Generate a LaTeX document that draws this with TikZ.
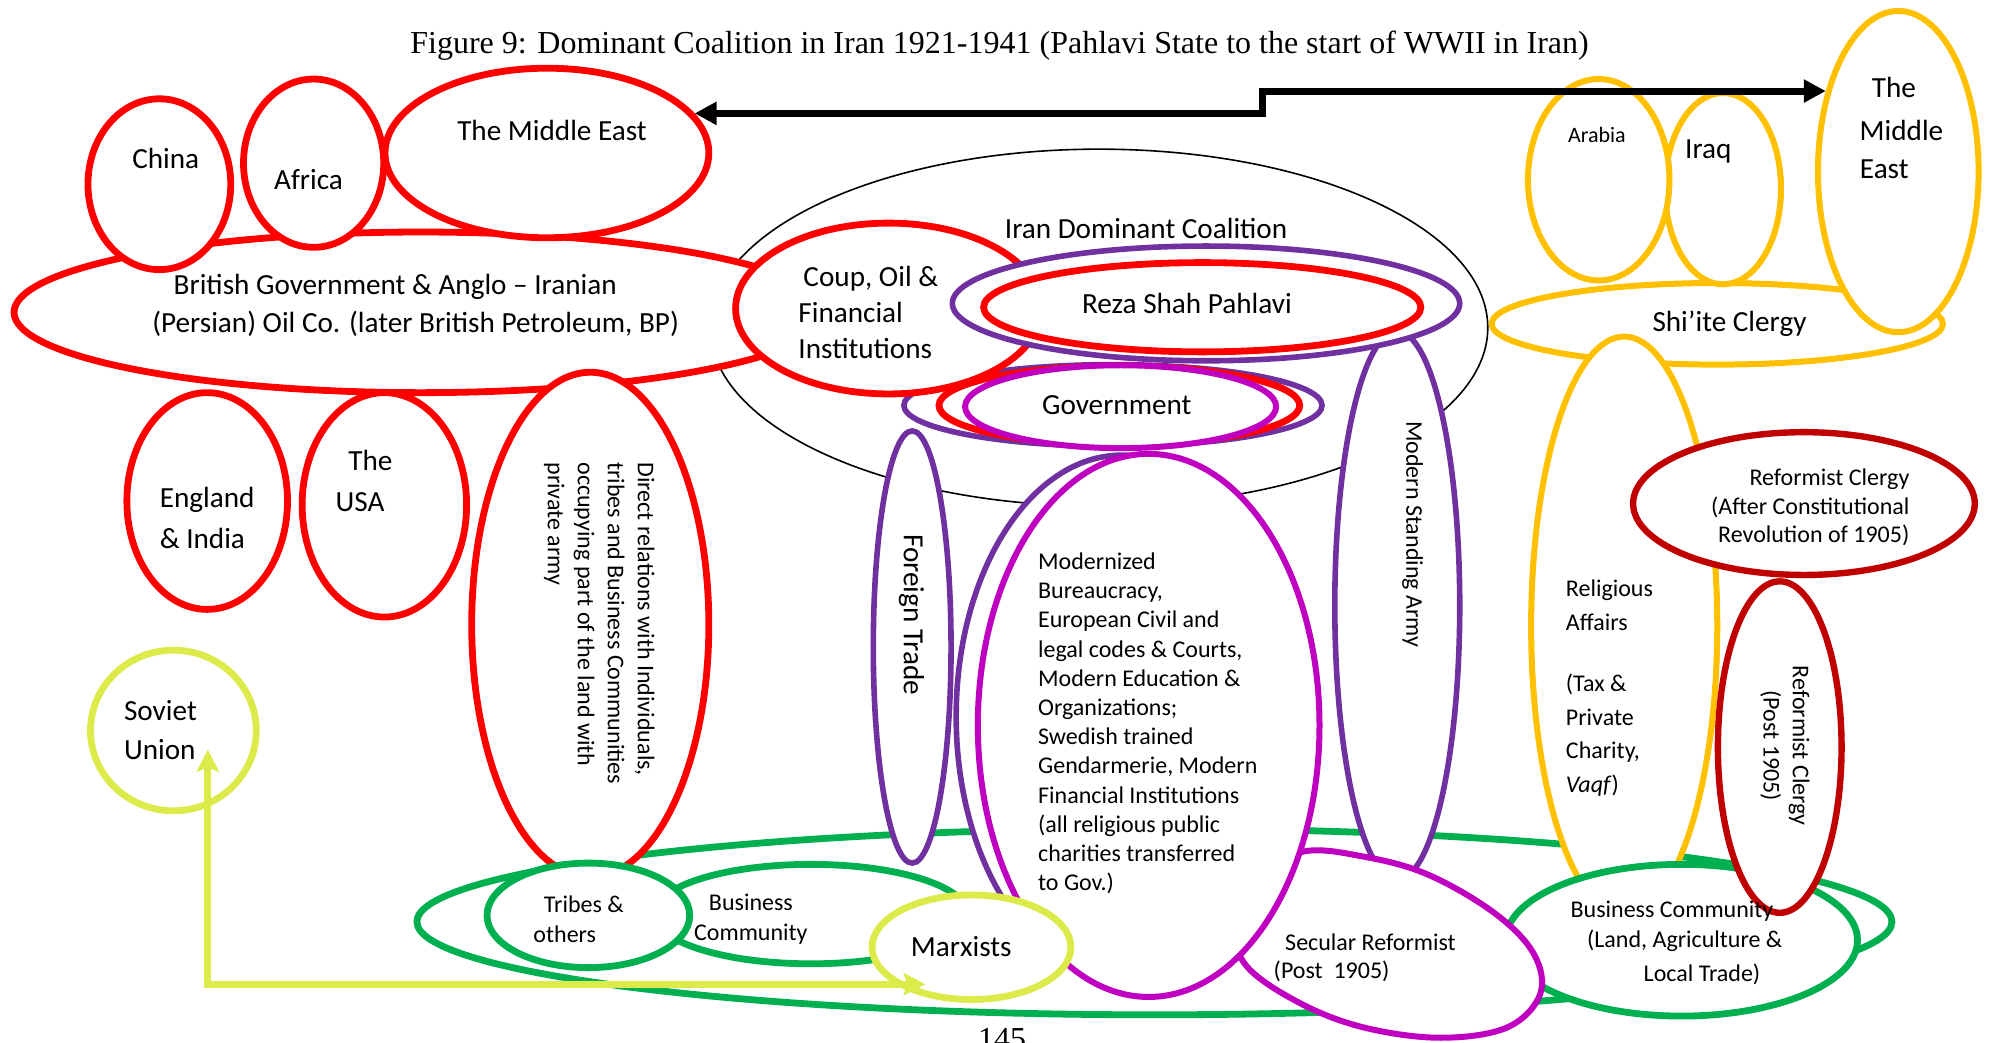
\documentclass[tikz,border=0pt]{standalone}
\usepackage{fontspec}
\setmainfont{Carlito}
\newfontfamily\titlefont{Liberation Serif}
\usetikzlibrary{shapes.geometric,arrows.meta}
\definecolor{cRed}{RGB}{255,0,0}
\definecolor{cPurple}{RGB}{112,48,160}
\definecolor{cMagenta}{RGB}{192,0,192}
\definecolor{cGreen}{RGB}{0,176,80}
\definecolor{cGold}{RGB}{255,192,0}
\definecolor{cLime}{RGB}{220,234,74}
\definecolor{cDarkRed}{RGB}{192,0,0}
\def\pxu{0.6375pt}
\tikzset{
  blob/.style 2 args={ellipse, fill=white, inner sep=0pt,
    minimum width=#1*\pxu, minimum height=#2*\pxu},
  redo/.style={draw=cRed, line width=3.4pt},
  purpo/.style={draw=cPurple, line width=2.8pt},
  mago/.style={draw=cMagenta, line width=3pt},
  greeno/.style={draw=cGreen, line width=3.4pt},
  goldo/.style={draw=cGold, line width=3pt},
  limeo/.style={draw=cLime, line width=3.4pt},
  darko/.style={draw=cDarkRed, line width=3.2pt},
  lblbig/.style={font=\fontsize{14.6}{17.9}\selectfont, inner sep=0pt},
  lblsmall/.style={font=\fontsize{12}{14.6}\selectfont, inner sep=0pt},
  blkarrow/.style={line width=3.5pt,
    {Triangle[length=11pt,width=11pt]}-{Triangle[length=11pt,width=11pt]}},
  limearrow/.style={draw=cLime, line width=3.6pt,
    {Stealth[length=11pt,width=11pt,inset=2pt]}-{Stealth[length=11pt,width=11pt,inset=2pt]}},
}
\begin{document}
\begin{tikzpicture}[x=0.6375pt, y=-0.6375pt]
\fill[white] (0,0) rectangle (1568,818);
\useasboundingbox (0,0) rectangle (1568,818);

% coalition boundary
\node[blob={610}{280}, draw=black, line width=0.8pt] (iran) at (862,257) {};

% British sphere
\node[blob={638}{126}, redo] (british) at (330,245) {};
\node[blob={112}{134}, redo] (china) at (125,144.5) {};
\node[blob={110}{132}, redo] (africa) at (246,128) {};
\node[blob={254}{133}, redo] (mered) at (429,120) {};
\node[blob={126}{170}, redo] (england) at (162.5,393) {};
\node[blob={129}{176}, redo] (usa) at (301.5,396) {};

% society base
\node[blob={1157}{146}, greeno] (society) at (905.5,723) {};
\node[blob={186}{396}, redo] (direct) at (463,490) {};
\node[blob={246}{78}, greeno] (bizL) at (636,717) {};
\node[blob={159}{82}, greeno] (tribes) at (461.5,718) {};

% clergy sphere
\node[blob={354}{64}, goldo] (shia) at (1347,254) {};
\node[blob={91}{150}, goldo] (iraq) at (1351.5,148) {};
\node[blob={111}{158}, goldo] (arabia) at (1254,141) {};
\node[blob={126}{252}, goldo] (meyel) at (1489,134.6) {};
\node[blob={146}{454}, goldo] (relig) at (1274,491) {};
\node[blob={276}{119}, greeno] (bizR) at (1319,737.5) {};
\node[blob={268}{112}, darko] (refA) at (1415,395) {};
\node[blob={97}{260}, darko] (refB) at (1396,586) {};

% state core
\node[blob={98}{430}, purpo] (army) at (1096,475) {};
% secular reformists: an egg-shaped outline, partly tucked under the bureaucracy
\draw[mago, fill=white] plot[smooth cycle, tension=0.6] coordinates {
  (1022,668) (1070,672) (1120,686) (1172,716) (1203,748) (1208,780)
  (1182,806) (1130,814) (1070,806) (1020,787) (978,758) (968,725) (985,690)};
\node[blob={328}{64}, purpo] (govP) at (873,318) {};
\node[blob={283}{62}, redo] (govR) at (878,318) {};
\node[blob={240}{134}, redo] (coup) at (697,242) {};
\node[blob={398}{90}, purpo] (rezaP) at (946,238) {};
\node[blob={343}{70}, redo] (rezaR) at (943,241) {};
\node[blob={244}{65}, mago] (govM) at (879,319) {};
\node[blob={61}{339}, purpo] (trade) at (715.5,507.5) {};
\node[blob={260}{410}, purpo] (modP) at (880,562) {};
\node[blob={268}{426}, mago] (modM) at (901,569) {};
\node[blob={156}{82}, limeo] (marx) at (762,743) {};

\node[blob={130}{126}, limeo] (soviet) at (136,573) {};

% connectors
\coordinate (stepx) at (990,0);
\draw[blkarrow] (mered.15) -- (mered.15 -| stepx) -- (stepx |- meyel.132) -- (meyel.132);
\coordinate (suTip) at (163,588);
\coordinate (mxTip) at (726,772);
\draw[limearrow] (suTip) |- (mxTip);

% labels
\node[font=\titlefont\fontsize{16}{19}\selectfont, inner sep=0pt] (title) at (784,36)
  {Figure 9: Dominant Coalition in Iran 1921-1941 (Pahlavi State to the start of WWII in Iran)};
\node[lblbig] (tChina) at (130,124) {China};
\node[lblbig] (tAfrica) at (242,141) {Africa};
\node[lblbig] (tMeRed) at (433,102) {The Middle East};
\node[lblbig] (tBrit1) at (310,225) {British Government \& Anglo – Iranian};
\node[lblbig] (tBrit2) at (326,254) {(Persian) Oil Co. (later British Petroleum, BP)};
\node[lblbig, anchor=west, align=left] (tCoup) at (626,245) {\hspace*{2.5pt}Coup, Oil \&\\Financial\\Institutions};
\node[lblbig] (tIran) at (899,179) {Iran Dominant Coalition};
\node[lblbig] (tReza) at (931,238) {Reza Shah Pahlavi};
\node[lblbig] (tGov) at (876,318) {Government};
\node[lblbig, rotate=-90] (tTrade) at (715,482) {Foreign Trade};
\node[lblsmall, anchor=west, align=left] (tMod) at (814,567.5)
  {Modernized\\Bureaucracy,\\European Civil and\\legal codes \& Courts,\\Modern Education \&\\Organizations;\\Swedish trained\\Gendarmerie, Modern\\Financial Institutions\\(all religious public\\charities transferred\\to Gov.)};
\node[lblsmall, rotate=-90] (tArmy) at (1108,419) {Modern Standing Army};
\node[font=\fontsize{12}{15}\selectfont, inner sep=0pt, rotate=-90, align=left] (tDirect) at (470,489)
  {Direct relations with Individuals,\\tribes and Business Communities\\occupying part of the land with\\private army};
\node[font=\fontsize{14.6}{20.3}\selectfont, inner sep=0pt, anchor=west, align=left] (tEngland) at (125,406.5) {England\\\& India};
\node[lblbig] (tThe) at (290.5,361) {The};
\node[lblbig] (tUSA) at (282.5,394) {USA};
\node[font=\fontsize{14.6}{19.8}\selectfont, inner sep=0pt, anchor=west, align=left] (tSoviet) at (97,572.5) {Soviet\\Union};
\node[lblsmall] (tTribes1) at (458,709) {Tribes \&};
\node[lblsmall] (tTribes2) at (443,733) {others};
\node[lblsmall, align=center] (tBizL) at (589,721) {Business\\Community};
\node[lblbig] (tMarx) at (754,742.5) {Marxists};
\node[lblsmall] (tSec1) at (1075,739) {Secular Reformist};
\node[lblsmall] (tSec2) at (1044.5,762) {(Post\ \ 1905)};
\node[lblsmall] (tBizR1) at (1311.5,715) {Business Community};
\node[lblsmall] (tBizR2) at (1321.5,738) {(Land, Agriculture \&};
\node[lblsmall] (tBizR3) at (1335,764) {Local Trade)};
\node[lblbig] (tShia) at (1356.6,253.6) {Shi’ite Clergy};
\node[font=\fontsize{11}{13}\selectfont, inner sep=0pt] (tArabia) at (1252.6,106) {Arabia};
\node[lblbig] (tIraq) at (1340,119) {Iraq};
\node[lblbig] (tMeY1) at (1485.5,69) {The};
\node[lblbig] (tMeY2) at (1491.5,102) {Middle};
\node[lblbig] (tMeY3) at (1478,133) {East};
\node[font=\fontsize{12}{16.9}\selectfont, inner sep=0pt, anchor=west, align=left] (tRelig) at (1228,540)
  {Religious\\Affairs\\[13.4pt](Tax \&\\Private\\Charity,\\\textit{Vaqf})};
\node[font=\fontsize{12}{14.3}\selectfont, inner sep=0pt, anchor=east, align=right] (tRefA) at (1498,398)
  {Reformist Clergy\\(After Constitutional\\Revolution of 1905)};
\node[lblsmall, rotate=-90, align=center] (tRefB) at (1400,585) {Reformist Clergy\\(Post 1905)};
\node[font=\titlefont\fontsize{16}{19}\selectfont, inner sep=0pt, anchor=base] (pageno) at (786,823) {145};
\end{tikzpicture}
\end{document}
